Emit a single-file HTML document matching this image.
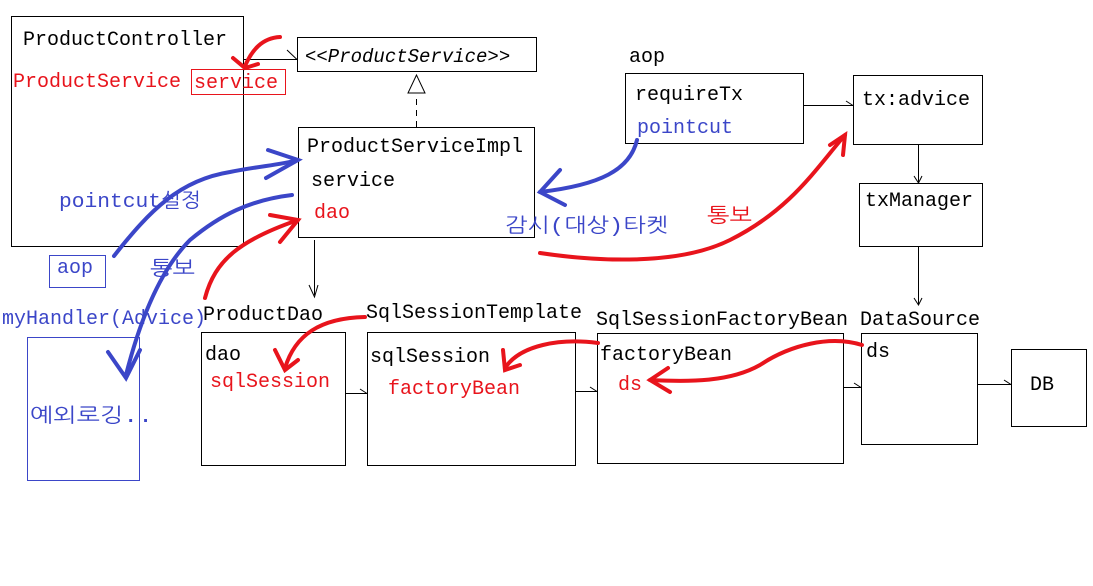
<!DOCTYPE html>
<html><head><meta charset="utf-8"><style>
body{margin:0;background:#fff}
svg{display:block}
text{font-family:"Liberation Mono","NanumGothic","Noto Sans CJK KR",monospace;font-size:20px}
.k{fill:#000}.r{fill:#e8141c}.b{fill:#3b46c8}
</style></head><body>
<svg width="1093" height="586" viewBox="0 0 1093 586" xmlns="http://www.w3.org/2000/svg">
<g fill="none" stroke="#000" stroke-width="1">
<rect x="11.5" y="16.5" width="232" height="230"/>
<rect x="297.5" y="37.5" width="239" height="34"/>
<rect x="298.5" y="127.5" width="236" height="110"/>
<rect x="201.5" y="332.5" width="144" height="133"/>
<rect x="367.5" y="332.5" width="208" height="133"/>
<rect x="597.5" y="333.5" width="246" height="130"/>
<rect x="861.5" y="333.5" width="116" height="111"/>
<rect x="1011.5" y="349.5" width="75" height="77"/>
<rect x="625.5" y="73.5" width="178" height="70"/>
<rect x="853.5" y="75.5" width="129" height="69"/>
<rect x="859.5" y="183.5" width="123" height="63"/>
<path d="M243 59.5H297M287 50L297 59.5"/>
<path d="M416.5 127V95" stroke-dasharray="6,5"/>
<path d="M416.5 75L408 93H425Z" fill="#fff"/>
<path d="M314.5 240V295M309 285L314.5 297L318 285"/>
<path d="M345 393.5H367M360 389L367 393.5"/>
<path d="M575 391.5H597M590 387L597 391.5"/>
<path d="M843 387.5H861M854 383L861 387.5"/>
<path d="M977 384.5H1011M1004 380L1011 384.5"/>
<path d="M803 105.5H853M846 101L853 105.5"/>
<path d="M918.5 144V183M914 176L918.5 183L922 176"/>
<path d="M918.5 246V305M914 298L918.5 305L922 298"/>
</g>
<rect x="191.5" y="69.5" width="94" height="25" fill="none" stroke="#e8141c"/>
<rect x="49.5" y="255.5" width="56" height="32" fill="none" stroke="#3b46c8"/>
<rect x="27.5" y="337.5" width="112" height="143" fill="none" stroke="#3b46c8"/>
<g fill="none" stroke="#3b46c8" stroke-width="4" stroke-linecap="round">
<path d="M114 256C150 210 180 180 230 172C260 166 280 165 298 160"/>
<path d="M268 150L298 160L266 178"/>
<path d="M292 195C250 200 220 215 190 240C160 270 140 320 126 375"/>
<path d="M108 352L126 378L140 350"/>
<path d="M637 140C630 170 600 185 540 192"/>
<path d="M560 170L540 192L565 205"/>
</g>
<g fill="none" stroke="#e8141c" stroke-width="4" stroke-linecap="round">
<path d="M280 37C262 38 252 50 245 66"/><path d="M233 58L245 68L258 64"/>
<path d="M205 298C215 260 240 240 298 220"/><path d="M270 215L298 220L280 242"/>
<path d="M540 253C600 262 680 265 730 240C790 210 815 170 845 135"/><path d="M830 145L845 135L843 155"/>
<path d="M365 317C320 318 295 335 285 368"/><path d="M275 350L285 370L298 360"/>
<path d="M598 343C560 338 520 345 505 368"/><path d="M503 350L505 370L520 365"/>
<path d="M862 345C830 335 790 345 760 365C730 382 690 382 650 380"/><path d="M668 368L650 380L670 392"/>
</g>
<text class="k" x="23" y="45">ProductController</text>
<text class="r" x="13" y="87">ProductService</text>
<text class="r" x="194" y="88">service</text>
<text class="k" x="305" y="62" font-style="italic" style="font-size:19px">&lt;&lt;ProductService&gt;&gt;</text>
<text class="k" x="307" y="152">ProductServiceImpl</text>
<text class="k" x="311" y="186">service</text>
<text class="r" x="314" y="218">dao</text>
<text class="b" x="59" y="207" textLength="142" lengthAdjust="spacingAndGlyphs">pointcut설정</text>
<text class="b" x="57" y="273">aop</text>
<text class="b" x="150" y="275" textLength="45" lengthAdjust="spacingAndGlyphs">통보</text>
<text class="b" x="2" y="324">myHandler(Advice)</text>
<text class="b" x="30" y="422" textLength="123" lengthAdjust="spacingAndGlyphs">예외로깅..</text>
<text class="k" x="203" y="320">ProductDao</text>
<text class="k" x="205" y="360">dao</text>
<text class="r" x="210" y="387">sqlSession</text>
<text class="k" x="366" y="318">SqlSessionTemplate</text>
<text class="k" x="370" y="362">sqlSession</text>
<text class="r" x="388" y="394">factoryBean</text>
<text class="k" x="596" y="325">SqlSessionFactoryBean</text>
<text class="k" x="600" y="360">factoryBean</text>
<text class="r" x="618" y="390">ds</text>
<text class="k" x="860" y="325">DataSource</text>
<text class="k" x="866" y="357">ds</text>
<text class="k" x="1030" y="390">DB</text>
<text class="k" x="629" y="62">aop</text>
<text class="k" x="635" y="100">requireTx</text>
<text class="b" x="637" y="133">pointcut</text>
<text class="k" x="862" y="105">tx:advice</text>
<text class="k" x="865" y="206">txManager</text>
<text class="b" x="505" y="232" textLength="163" lengthAdjust="spacingAndGlyphs">감시(대상)타켓</text>
<text class="r" x="707" y="222" textLength="45" lengthAdjust="spacingAndGlyphs">통보</text>
</svg>
</body></html>
